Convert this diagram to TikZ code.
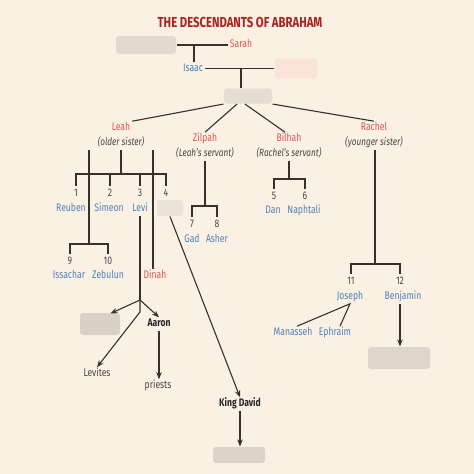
\documentclass[tikz,border=0pt]{standalone}
\usepackage{fontspec}
\setmainfont{Fira Sans}[FakeStretch=0.78]
\usepackage{xcolor}
\usetikzlibrary{arrows.meta}
\usetikzlibrary{calc}

\definecolor{paper}{HTML}{FAF0E4}
\definecolor{titlered}{HTML}{A82420}
\definecolor{womanred}{HTML}{DE5650}
\definecolor{sonblue}{HTML}{4F82B8}
\definecolor{notegray}{HTML}{4A4744}
\definecolor{linegray}{HTML}{35312D}

\begin{document}
\begin{tikzpicture}[x=1pt, y=-1pt, line width=1.1pt, color=linegray,
		>={Stealth[length=7pt, width=5.5pt]},
		label/.style={inner sep=1.5pt, text height=7.5pt, text depth=2pt, font=\fontsize{11}{13}\selectfont},
		heading/.style={font=\bfseries\fontsize{14.5}{16}\selectfont, text=titlered},
		wife/.style={label, text=womanred},
		note/.style={label, text=notegray, font=\itshape\fontsize{10.5}{12}\selectfont},
		son/.style={label, text=sonblue},
		num/.style={label, inner sep=3pt, text=notegray},
		heir/.style={label, text=black!85, font=\bfseries\fontsize{11}{13}\selectfont},
		folk/.style={label, text=notegray},
		hidden/.style={fill=#1, rounded corners=3pt, inner sep=0pt}]
		
		\useasboundingbox[fill=paper] (0,0) rectangle (474,474);
		
		\node (title) [heading] at (240,22) {THE DESCENDANTS OF ABRAHAM};
		
		\node (abraham) [hidden=black!9!paper, minimum width=60pt, minimum height=18pt] at (146,45) {};
		\node (sarah) [wife] at (241,45) {Sarah};
		\node (isaac) [son] at (193,68.5) {Isaac};
		\node (rebekah) [hidden=red!5!paper, minimum width=43pt, minimum height=20pt] at (296,68.5) {};
		\node (jacob) [hidden=black!8!paper, minimum width=48pt, minimum height=15pt] at (248,96) {};
		
		\node (leah) [wife] at (121,128) {Leah};
		\node (leahnote) [note] at (121,143) {(older sister)};
		\node (zilpah) [wife] at (205,139) {Zilpah};
		\node (zilpahnote) [note] at (205,154) {(Leah’s servant)};
		\node (bilhah) [wife] at (289,139) {Bilhah};
		\node (bilhahnote) [note] at (289,154) {(Rachel’s servant)};
		\node (rachel) [wife] at (374,128) {Rachel};
		\node (rachelnote) [note] at (374,143) {(younger sister)};
		
		\node (n1) [num] at (76,194) {1};
		\node (n2) [num] at (110,194) {2};
		\node (n3) [num] at (140,194) {3};
		\node (n4) [num] at (166,194) {4};
		\node (reuben) [son] at (71,209) {Reuben};
		\node (simeon) [son] at (109,209) {Simeon};
		\node (levi) [son] at (140,209) {Levi};
		\node (judah) [hidden=black!5!paper, minimum width=26pt, minimum height=16pt] at (170,208) {};
		
		\node (n9) [num] at (70,262) {9};
		\node (n10) [num] at (108,262) {10};
		\node (issachar) [son] at (69,276) {Issachar};
		\node (zebulun) [son] at (108,276) {Zebulun};
		\node (dinah) [wife] at (155,276) {Dinah};
		
		\node (n7) [num] at (192,225) {7};
		\node (n8) [num] at (217,225) {8};
		\node (gad) [son] at (192,240) {Gad};
		\node (asher) [son] at (217,240) {Asher};
		
		\node (n5) [num] at (274,197) {5};
		\node (n6) [num] at (305,197) {6};
		\node (dan) [son] at (273,211) {Dan};
		\node (naphtali) [son] at (304,211) {Naphtali};
		
		\node (n11) [num] at (351,282) {11};
		\node (n12) [num] at (400,282) {12};
		\node (joseph) [son] at (350,297) {Joseph};
		\node (benjamin) [son] at (403,297) {Benjamin};
		\node (manasseh) [son] at (293,333) {Manasseh};
		\node (ephraim) [son] at (335,333) {Ephraim};
		\node (benjamite) [hidden=black!11!paper, minimum width=62pt, minimum height=22pt] at (399,358) {};
		
		\node (moses) [hidden=black!13!paper, minimum width=40pt, minimum height=22pt] at (100,324) {};
		\node (aaron) [heir] at (159,324) {Aaron};
		\node (levites) [folk] at (97,374) {Levites};
		\node (priests) [folk] at (158,386) {priests};
		\node (david) [heir] at (240,404) {King David};
		\node (jesus) [hidden=black!12!paper, minimum width=52pt, minimum height=16pt] at (239,455) {};
		
		\coordinate (wed1) at (194,45);
		\coordinate (wed2) at (241,68.5);
		\coordinate (leahbar) at (121,174);
		\coordinate (issatop) at (89,150);
		\coordinate (issabar) at (89,244);
		\coordinate (dinahtop) at (153,150);
		\coordinate (zilpahbar) at (205,206);
		\coordinate (bilhahbar) at (289,179);
		\coordinate (rachelbar) at (375,264);
		\coordinate (levifork) at (140,300);
		\coordinate (levibend) at (140,312);
		
		\draw (abraham) -- (sarah);
		\draw (wed1) -- (wed1 |- isaac.north);
		\draw (isaac) -- (rebekah);
		\draw (wed2) -- (wed2 |- jacob.north);
		
		\draw (jacob.south west) -- (leah.north east);
		\draw ($(jacob.south)+(-11,0)$) -- (zilpah.north);
		\draw ($(jacob.south)+(-3,0)$) -- ($(bilhah.north)+(-4,0)$);
		\draw (jacob.south east) -- (rachel.north);
		
		\draw (leahnote.south) -- (leahbar);
		\draw (n1.north) |- (leahbar) -| (n4.north);
		\draw (n2.north) -- (n2.north |- leahbar);
		\draw (n3.north) -- (n3.north |- leahbar);
		\draw (issatop) -- (issabar);
		\draw (n9.north) |- (issabar) -| (n10.north);
		\draw (dinahtop) -- (dinahtop |- dinah.north);
		
		\draw (zilpahnote.south) -- (zilpahbar);
		\draw (n7.north) |- (zilpahbar) -| (n8.north);
		\draw (bilhahnote.south) -- (bilhahbar);
		\draw (n5.north) |- (bilhahbar) -| (n6.north);
		\draw (rachelbar |- rachelnote.south) -- (rachelbar);
		\draw (n11.north) |- (rachelbar) -| (n12.north);
		
		\draw ($(manasseh.north)+(4,0)$) -- (joseph.south) -- ($(ephraim.north)+(5,0)$);
		\draw [->] (n12 |- benjamin.south) -- (n12 |- benjamite.north);
		
		\draw (levi.south) -- (levifork);
		\draw [->] (levifork) -- ($(moses.north east)+(-10,1)$);
		\draw [->] (levifork) -- (aaron.north);
		\draw [->] (levifork) -- (levibend) -- (levites.north);
		\draw [->] (aaron.south) -- (aaron.south |- priests.north);
		\draw [->] (judah.south) -- (david.north);
		\draw [->] (david.south) -- (david.south |- jesus.north);
		
\end{tikzpicture}
\end{document}
